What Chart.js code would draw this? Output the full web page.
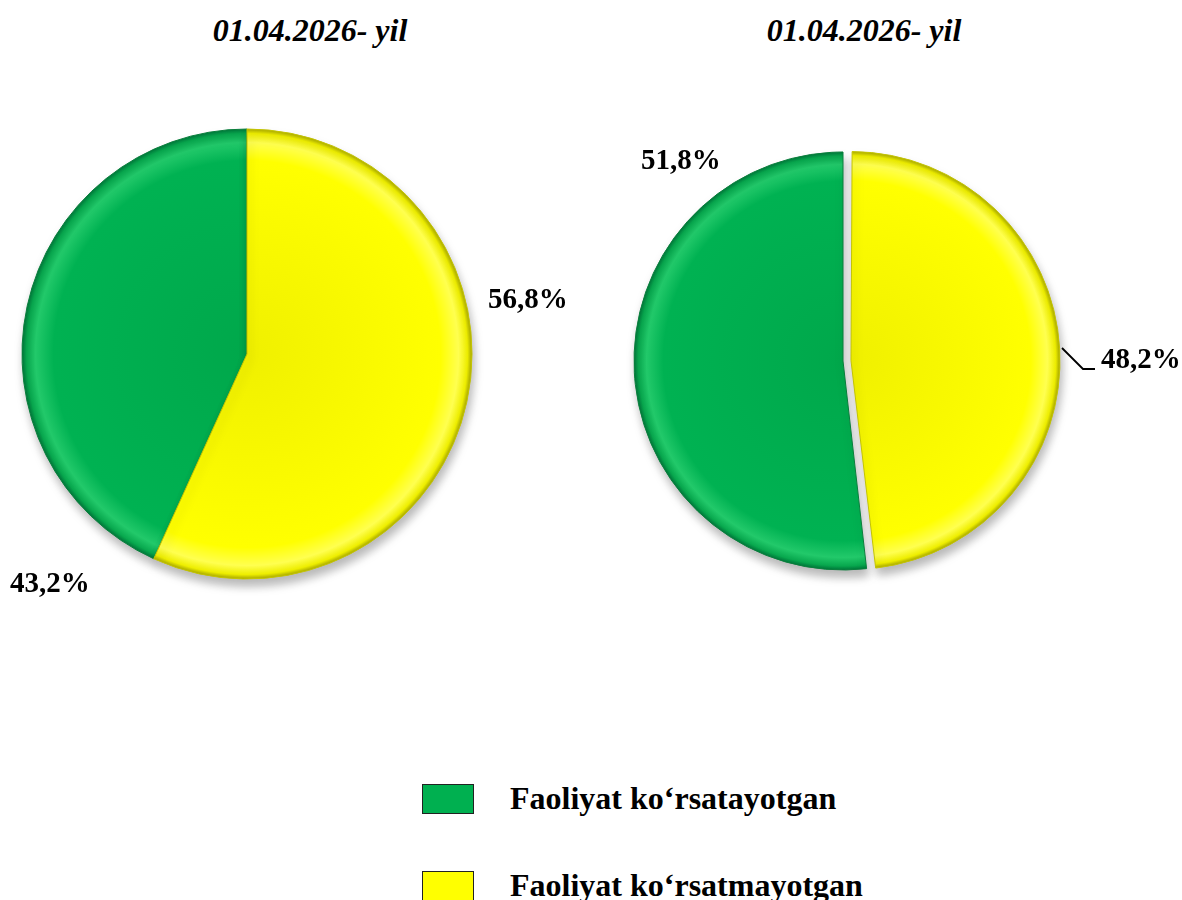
<!DOCTYPE html>
<html>
<head>
<meta charset="utf-8">
<script src="https://cdn.jsdelivr.net/npm/chart.js@4.4.1/dist/chart.umd.min.js"></script>
<style>
    html, body { margin: 0; padding: 0; background: #fff; }
    body { width: 1182px; height: 900px; position: relative; overflow: hidden;
        font-family: "Liberation Serif", "Times New Roman", serif; color: #000; }
    .title { position: absolute; top: 12px; font-size: 32px; font-weight: bold; font-style: italic;
        white-space: nowrap; transform: translateX(-50%); }
    .pct { position: absolute; font-size: 29px; font-weight: bold; white-space: nowrap; line-height: 1; }
    canvas { position: absolute; }
    .legend-item { position: absolute; left: 422px; display: flex; align-items: center; }
    .legend-item .box { width: 52px; height: 30px; border: 1px solid #222; box-sizing: border-box; }
    .legend-item span { margin-left: 36px; font-size: 32px; font-weight: bold; white-space: nowrap; }
</style>
</head>
<body>

<div class="title" style="left:310px">01.04.2026- yil</div>
<div class="title" style="left:864px">01.04.2026- yil</div>

<canvas id="pieLeft" width="500" height="500" style="left:-3px; top:104px"></canvas>
<canvas id="pieRight" width="560" height="500" style="left:563px; top:111px"></canvas>

<div id="labels"></div>
<div id="legend"></div>

<script>
/* DATA */

const categories = ['Faoliyat ko‘rsatayotgan', 'Faoliyat ko‘rsatmayotgan']
const leftValues = [43.2, 56.8]
const rightValues = [51.8, 48.2]
const sliceColors = ['#00b050', '#ffff00']

/* SHADING — radial bevel per slice */

const bevelStops = [
    [[0, '#00a84b'], [0.86, '#00b252'], [0.94, '#22c96a'], [0.98, '#08a84e'], [1, '#00763a']],
    [[0, '#f0f000'], [0.86, '#ffff00'], [0.94, '#ffff50'], [0.98, '#eeee00'], [1, '#a8a800']]
]

function bevel(ctx, radius) {
    const chart = ctx.chart
    const area = chart.chartArea
    if (!area) return sliceColors[ctx.dataIndex]
    const cx = (area.left + area.right) / 2
    const cy = (area.top + area.bottom) / 2
    const g = chart.ctx.createRadialGradient(cx, cy, 0, cx, cy, radius)
    bevelStops[ctx.dataIndex].forEach(([p, c]) => g.addColorStop(p, c))
    return g
}

const shadowPlugin = {
    id: 'softShadow',
    beforeDatasetsDraw(chart) {
        const c = chart.ctx
        c.save()
        c.shadowColor = 'rgba(0,0,0,0.28)'
        c.shadowBlur = 10
        c.shadowOffsetX = 2
        c.shadowOffsetY = 7
    },
    afterDatasetsDraw(chart) {
        chart.ctx.restore()
    }
}

// Chart.js grows an exploded arc's radius a bit; keep it the same size as the rest
const keepRadiusPlugin = {
    id: 'keepRadius',
    afterDatasetsUpdate(chart) {
        chart.getDatasetMeta(0).data.forEach((arc) => {
            const off = (arc.options.offset || 0) / 4
            if (!off) return
            const fix = 1 - Math.sin(Math.min(Math.PI, arc.circumference))
            arc.outerRadius -= off * fix
        })
    }
}

// leader line for the exploded slice label
const leaderPlugin = {
    id: 'leader',
    afterDraw(chart, args, opts) {
        if (!opts.points) return
        const area = chart.chartArea
        const cx = (area.left + area.right) / 2
        const cy = (area.top + area.bottom) / 2
        const c = chart.ctx
        c.save()
        c.strokeStyle = '#000'
        c.lineWidth = 1.8
        c.beginPath()
        opts.points.forEach(([dx, dy], i) => {
            if (i === 0) c.moveTo(cx + dx, cy + dy)
            else c.lineTo(cx + dx, cy + dy)
        })
        c.stroke()
        c.restore()
    }
}

function makePie(id, values, rotation, radius, offsets, leader) {
    return new Chart(document.getElementById(id), {
        type: 'pie',
        data: {
            labels: categories,
            datasets: [{
                data: values,
                backgroundColor: (ctx) => bevel(ctx, radius),
                borderColor: ['#0a7f3c', '#c4c400'],
                borderWidth: 1,
                offset: offsets
            }]
        },
        options: {
            responsive: false,
            animation: false,
            rotation,
            radius,
            layout: { padding: 0 },
            plugins: {
                legend: { display: false },
                tooltip: { enabled: false },
                leader: { points: leader }
            }
        },
        plugins: [keepRadiusPlugin, shadowPlugin, leaderPlugin]
    })
}

// green starts where the yellow (clockwise from 12 o'clock) ends
makePie('pieLeft', leftValues, leftValues[1] * 3.6, 225, [0, 0], null)
makePie('pieRight', rightValues, rightValues[1] * 3.6, 209, [0, 32],
    [[219, -13], [240, 8], [252, 8]])

/* LABELS */

const fmt = (v) => v.toFixed(1).replace('.', ',') + '%'

const labelSpots = [
    { v: leftValues[0], left: 10, top: 568 },
    { v: leftValues[1], left: 488, top: 284 },
    { v: rightValues[0], left: 641, top: 145 },
    { v: rightValues[1], left: 1101, top: 344 }
]

const labelsEl = document.getElementById('labels')
labelSpots.forEach((s) => {
    const d = document.createElement('div')
    d.className = 'pct'
    d.style.left = s.left + 'px'
    d.style.top = s.top + 'px'
    d.textContent = fmt(s.v)
    labelsEl.appendChild(d)
})

/* LEGEND */

const legendEl = document.getElementById('legend')
const legendTops = [780, 867]
categories.forEach((name, i) => {
    const item = document.createElement('div')
    item.className = 'legend-item'
    item.style.top = legendTops[i] + 'px'
    item.innerHTML = `<div class="box" style="background:${sliceColors[i]}"></div><span>${name}</span>`
    legendEl.appendChild(item)
})
</script>
</body>
</html>
